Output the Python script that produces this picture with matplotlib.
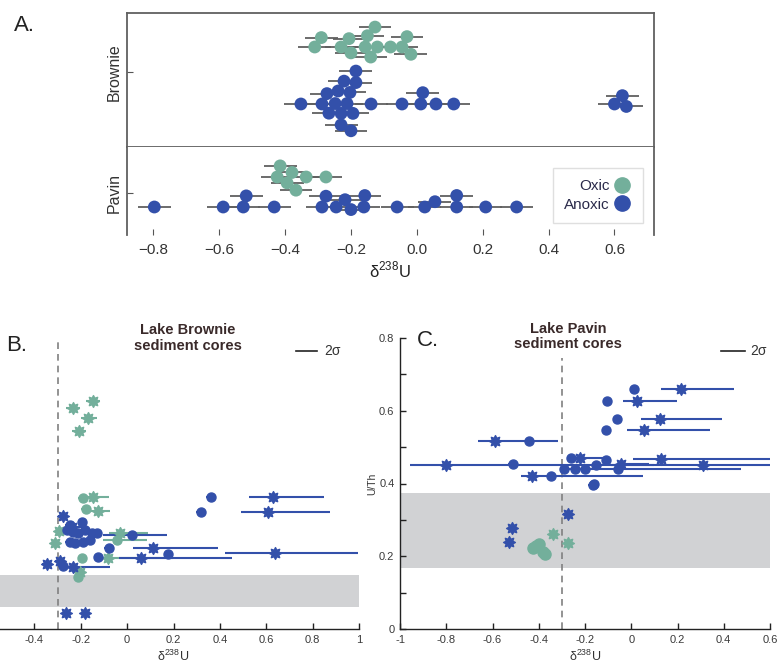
import numpy as np
import matplotlib
matplotlib.use("Agg")
import matplotlib.pyplot as plt
from matplotlib.lines import Line2D
from matplotlib.path import Path
from matplotlib.ticker import FuncFormatter, MultipleLocator

plt.rcParams["font.family"] = ["Liberation Sans", "DejaVu Sans"]
plt.rcParams["mathtext.fontset"] = "custom"
plt.rcParams["mathtext.rm"] = "Liberation Sans"

GREEN = "#73af9b"
BLUE = "#3350aa"
BAND = "#d1d2d4"

# ---- panel A: d238U of sediments, by lake and redox ----
brownie_oxic = [-0.127, -0.29, -0.206, -0.15, -0.018, -0.31, -0.23, -0.157,
                -0.12, -0.08, -0.045, -0.2, -0.14, -0.03]
brownie_anoxic = [-0.185, -0.248, -0.203, -0.273, -0.221, -0.352, -0.288, -0.239,
                  -0.185, -0.139, -0.045, -0.267, -0.212, -0.23, -0.2, -0.23,
                  -0.194, 0.018, 0.012, 0.058, 0.112, 0.624, 0.6, 0.636]
pavin_oxic = [-0.415, -0.367, -0.424, -0.379, -0.336, -0.276, -0.394]
pavin_anoxic = [-0.797, -0.588, -0.527, -0.518, -0.433, -0.276, -0.218, -0.158,
                -0.288, -0.245, -0.2, -0.161, -0.06, 0.024, 0.055, 0.121, 0.121,
                0.209, 0.303]
a_err = 0.05

# ---- panel B: Lake Brownie cores, d238U vs U/Th ----
b_anox_circ_d = [0.362, 0.319, -0.246, -0.194, -0.233, -0.259, -0.211, -0.181, -0.151,
                 -0.129, 0.022, -0.246, -0.224, -0.19, -0.159, -0.078, 0.177, -0.125, -0.276]
b_anox_circ_u = [0.363, 0.321, 0.286, 0.294, 0.266, 0.272, 0.264, 0.272, 0.264,
                 0.264, 0.258, 0.239, 0.236, 0.239, 0.245, 0.223, 0.206, 0.198, 0.173]
b_anox_circ_lo = [0.02] * 10 + [0.125] + [0.02] * 8
b_anox_circ_hi = [0.02] * 10 + [0.15] + [0.02] * 8

b_anox_star_d = [0.629, 0.608, -0.276, 0.112, 0.638, 0.06, -0.345, -0.289, -0.233,
                 -0.263, -0.181, -0.237]
b_anox_star_u = [0.363, 0.321, 0.311, 0.223, 0.209, 0.195, 0.179, 0.187, 0.170,
                 0.044, 0.044, 0.28]
b_anox_star_lo = [0.103, 0.116, 0.02, 0.086, 0.216, 0.095, 0.02, 0.02, 0.02, 0.02, 0.02, 0.02]
b_anox_star_hi = [0.22, 0.267, 0.02, 0.28, 0.357, 0.392, 0.02, 0.02, 0.16, 0.02, 0.02, 0.05]

b_oxic_circ_d = [-0.19, -0.177, -0.043, -0.194, -0.211]
b_oxic_circ_u = [0.36, 0.33, 0.245, 0.195, 0.143]
b_oxic_circ_lo = [0.02, 0.02, 0.06, 0.02, 0.02]
b_oxic_circ_hi = [0.02, 0.02, 0.13, 0.02, 0.02]

b_oxic_star_d = [-0.147, -0.233, -0.168, -0.207, -0.147, -0.125, -0.293, -0.31,
                 -0.03, -0.082, -0.203]
b_oxic_star_u = [0.626, 0.607, 0.58, 0.544, 0.363, 0.324, 0.269, 0.236,
                 0.264, 0.195, 0.157]
b_oxic_star_lo = [0.03, 0.03, 0.03, 0.03, 0.03, 0.03, 0.02, 0.02, 0.05, 0.05, 0.02]
b_oxic_star_hi = [0.03, 0.03, 0.04, 0.03, 0.07, 0.05, 0.02, 0.02, 0.12, 0.28, 0.02]

b_band = (0.06, 0.148)

# ---- panel C: Lake Pavin cores ----
c_anox_circ_d = [0.013, -0.104, -0.061, -0.108, -0.442, -0.511, -0.346, -0.16, -0.165,
                 -0.26, -0.108, -0.29, -0.242, -0.199, -0.152, -0.056]
c_anox_circ_u = [0.659, 0.626, 0.577, 0.546, 0.516, 0.453, 0.42, 0.398, 0.395,
                 0.47, 0.464, 0.44, 0.44, 0.44, 0.451, 0.44]
c_anox_circ_lo = [0.02] * 16
c_anox_circ_hi = [0.02] * 11 + [0.766] + [0.02] * 4

c_anox_star_d = [0.216, 0.026, 0.126, 0.056, -0.589, -0.801, -0.429, 0.13, 0.312,
                 -0.221, -0.043, -0.273, -0.515, -0.528]
c_anox_star_u = [0.659, 0.626, 0.577, 0.546, 0.516, 0.451, 0.42, 0.467, 0.451,
                 0.47, 0.453, 0.316, 0.277, 0.239]
c_anox_star_lo = [0.087, 0.06, 0.083, 0.073, 0.074, 0.157, 0.047, 0.121, 0.4,
                  0.02, 0.02, 0.02, 0.02, 0.02]
c_anox_star_hi = [0.229, 0.17, 0.268, 0.286, 0.273, 0.9, 0.48, 0.476, 0.29,
                  0.12, 0.12, 0.02, 0.02, 0.02]

c_oxic_circ_d = [-0.424, -0.398, -0.372, -0.41, -0.38]
c_oxic_circ_u = [0.222, 0.234, 0.206, 0.228, 0.213]
c_oxic_star_d = [-0.338, -0.273]
c_oxic_star_u = [0.261, 0.236]

c_band = (0.168, 0.374)

W, H = 780, 668

# 8-pointed star marker with a fat body
_ang = np.pi / 2 + np.arange(16) * np.pi / 8
_rad = np.where(np.arange(16) % 2 == 0, 1.0, 0.6)
_verts = np.column_stack([_rad * np.cos(_ang), _rad * np.sin(_ang)])
STAR = Path(np.vstack([_verts, _verts[:1]]), closed=True)


def px_box(left, top, right, bottom):
    return [left / W, 1 - bottom / H, (right - left) / W, (bottom - top) / H]


def swarm_y(ax, xs, yc, d_px):
    xs = np.asarray(xs, float)
    pts = ax.transData.transform(np.column_stack([xs, np.full(len(xs), yc)]))
    xp, y0 = pts[:, 0], pts[0, 1]
    placed = []
    out = np.empty(len(xs))
    for i in np.argsort(xp):
        x = xp[i]
        cands = [y0]
        for px, py in placed:
            dx = x - px
            if abs(dx) < d_px:
                dy = np.sqrt(d_px ** 2 - dx ** 2)
                cands += [py + dy, py - dy]
        cands.sort(key=lambda c: abs(c - y0))
        for c in cands:
            if all((x - px) ** 2 + (c - py) ** 2 >= d_px ** 2 - 1e-6 for px, py in placed):
                out[i] = c
                placed.append((x, c))
                break
    return ax.transData.inverted().transform(np.column_stack([xp, out]))[:, 1]


fig = plt.figure(figsize=(W / 100, H / 100), dpi=100)

# ---------------- panel A ----------------
axA1 = fig.add_axes(px_box(127, 13, 654, 147))
axA2 = fig.add_axes(px_box(127, 147, 654, 235))
groups = [
    (axA1, "Brownie", (0.75, -0.59), [(brownie_oxic, -0.25, GREEN), (brownie_anoxic, 0.32, BLUE)]),
    (axA2, "Pavin", (0.42, -0.46), [(pavin_oxic, -0.16, GREEN), (pavin_anoxic, 0.14, BLUE)]),
]
for ax, name, ylim, sets in groups:
    ax.set_xlim(-0.88, 0.72)
    ax.set_ylim(*ylim)
    for vals, yc, col in sets:
        ys = swarm_y(ax, vals, yc, 11.5)
        ax.errorbar(vals, ys, xerr=a_err, fmt="none", ecolor="#606060",
                    elinewidth=1.3, capsize=0, zorder=1)
        ax.scatter(vals, ys, s=85, color=col, edgecolors="none", zorder=2)
    ax.set_yticks([0])
    ax.set_yticklabels([name], rotation=90, va="center", fontsize=11.5, color="#333333")
    ax.tick_params(direction="in", length=4, color="#555555", labelcolor="#333333")
    for s in ax.spines.values():
        s.set_color("#606060")
        s.set_linewidth(1.3)

axA1.set_xticks([])
axA2.spines["top"].set_visible(False)
axA2.spines["bottom"].set_visible(False)
axA2.set_xticks(np.arange(-0.8, 0.61, 0.2))
axA2.tick_params(axis="x", labelsize=11, pad=6)
axA2.set_xlabel(r"δ$^{\mathregular{238}}$U", fontsize=12, labelpad=2, color="#222222")

leg = axA2.legend(
    handles=[Line2D([], [], ls="none", marker="o", ms=11, color=GREEN, label="Oxic"),
             Line2D([], [], ls="none", marker="o", ms=11, color=BLUE, label="Anoxic")],
    loc="lower right", bbox_to_anchor=(0.979, 0.136), markerfirst=False,
    fontsize=11, frameon=True, fancybox=False, edgecolor="#d8d8d8",
    handletextpad=0.2, handlelength=1.2, labelspacing=0.3, borderpad=0.75,
    borderaxespad=0)
for t in leg.get_texts():
    t.set_color("#2a2a4a")


def hyphen_fmt(v, pos):
    v = round(v, 6)
    if v == 0:
        return "0"
    return f"{v:g}"


def core_panel(ax, xlim, band, sets):
    ax.set_xlim(*xlim)
    ax.set_ylim(0, 0.8)
    ax.axhspan(band[0], band[1], color=BAND, lw=0, zorder=0)
    for d, u, lo, hi, mk, col, ms in sets:
        ax.errorbar(d, u, xerr=[lo, hi], fmt="none", ecolor=col,
                    elinewidth=1.5, capsize=0, zorder=3)
        ax.plot(d, u, ls="none", marker=mk, ms=ms, color=col, mec=col, zorder=4)
    ax.spines["top"].set_visible(False)
    ax.spines["right"].set_visible(False)
    for s in ax.spines.values():
        s.set_color("#222222")
        s.set_linewidth(1.0)
    ax.xaxis.set_major_locator(MultipleLocator(0.2))
    ax.xaxis.set_major_formatter(FuncFormatter(hyphen_fmt))
    ax.tick_params(direction="in", length=4, width=1, labelsize=8, color="#222222",
                   labelcolor="#3a3a3a", pad=4)
    ax.set_xlabel(r"δ$^{\mathregular{238}}$U", fontsize=9, labelpad=3, color="#333333")


# ---------------- panel B ----------------
axB = fig.add_axes(px_box(-12, 338, 359, 629))
core_panel(axB, (-0.6, 1.0), b_band, [
    (b_oxic_circ_d, b_oxic_circ_u, b_oxic_circ_lo, b_oxic_circ_hi, "o", GREEN, 6.5),
    (b_oxic_star_d, b_oxic_star_u, b_oxic_star_lo, b_oxic_star_hi, STAR, GREEN, 8.5),
    (b_anox_circ_d, b_anox_circ_u, b_anox_circ_lo, b_anox_circ_hi, "o", BLUE, 6.5),
    (b_anox_star_d, b_anox_star_u, b_anox_star_lo, b_anox_star_hi, STAR, BLUE, 8.5),
])
axB.set_xticks(np.arange(-0.4, 1.01, 0.2))
axB.set_yticks([])
axB.spines["left"].set_visible(False)
axB.plot([-0.3, -0.3], [0, 0.8], ls=(0, (4, 3)), color="#808080", lw=1.2, zorder=2)
axB.text(0.263, 0.80, "Lake Brownie\nsediment cores", ha="center", va="center",
         fontsize=10.5, fontweight="semibold", color="#3a2a2a", linespacing=1.1)
axB.plot([0.73, 0.82], [0.764, 0.764], color="#222222", lw=1.2, clip_on=False)
axB.text(0.85, 0.764, "2σ", va="center", fontsize=10, color="#333333")

# ---------------- panel C ----------------
axC = fig.add_axes(px_box(400, 338, 770, 629))
no_err_o = [0] * len(c_oxic_circ_d)
no_err_s = [0] * len(c_oxic_star_d)
core_panel(axC, (-1.0, 0.6), c_band, [
    (c_oxic_circ_d, c_oxic_circ_u, no_err_o, no_err_o, "o", GREEN, 8),
    (c_oxic_star_d, c_oxic_star_u, no_err_s, no_err_s, STAR, GREEN, 8.5),
    (c_anox_circ_d, c_anox_circ_u, c_anox_circ_lo, c_anox_circ_hi, "o", BLUE, 6.5),
    (c_anox_star_d, c_anox_star_u, c_anox_star_lo, c_anox_star_hi, STAR, BLUE, 8.5),
])
axC.yaxis.set_major_locator(MultipleLocator(0.2))
axC.yaxis.set_minor_locator(MultipleLocator(0.1))
axC.yaxis.set_major_formatter(FuncFormatter(hyphen_fmt))
axC.tick_params(axis="y", which="minor", direction="in", length=4, width=1, color="#222222")
axC.set_ylabel("U/Th", fontsize=7.5, labelpad=1, color="#333333")
axC.plot([-0.3, -0.3], [0, 0.745], ls=(0, (4, 3)), color="#808080", lw=1.2, zorder=2)
axC.text(-0.273, 0.805, "Lake Pavin\nsediment cores", ha="center", va="center",
         fontsize=10.5, fontweight="semibold", color="#3a2a2a", linespacing=1.1)
axC.plot([0.39, 0.49], [0.764, 0.764], color="#222222", lw=1.2, clip_on=False)
axC.text(0.515, 0.764, "2σ", va="center", fontsize=10, color="#333333")

# panel letters
fig.text(14 / W, 1 - 31 / H, "A.", fontsize=16, color="#222222")
fig.text(6 / W, 1 - 351 / H, "B.", fontsize=16, color="#222222")
fig.text(417 / W, 1 - 346 / H, "C.", fontsize=16, color="#222222")

fig.savefig("out.png", dpi=100)
